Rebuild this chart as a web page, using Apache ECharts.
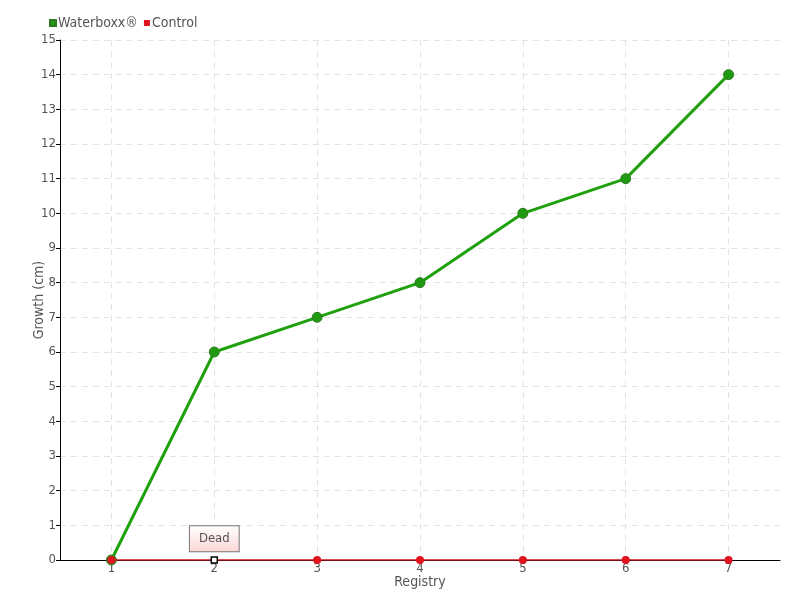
<!DOCTYPE html>
<html>
<head>
<meta charset="utf-8">
<script src="https://cdn.jsdelivr.net/npm/echarts@6/dist/echarts.min.js"></script>
<style>
  html, body { margin: 0; padding: 0; background: #fff; }
  #main { width: 800px; height: 600px; }
</style>
</head>
<body>
<div id="main"></div>
<script>
var registry = ['1', '2', '3', '4', '5', '6', '7'];
var waterboxx = [0, 6, 7, 8, 10, 11, 14];
var control = [0, 0, 0, 0, 0, 0, 0];
var deadIndex = 1;

var font = '"DejaVu Sans Condensed", "Liberation Sans Narrow", sans-serif';

var myChart = echarts.init(document.getElementById('main'));

// control series: mark the dead plant with a callout label
var controlData = control.map(function (v, i) {
  if (i !== deadIndex) return v;
  return {
    value: v,
    symbol: 'rect',
    symbolSize: 6,
    itemStyle: { color: '#fff', borderColor: '#000', borderWidth: 1.5 },
    label: {
      show: true,
      position: 'top',
      distance: 5,
      formatter: 'Dead',
      color: '#555',
      fontSize: 13,
      fontFamily: font,
      padding: [6, 9, 6, 9],
      borderColor: '#777',
      borderWidth: 1,
      backgroundColor: {
        type: 'linear', x: 0, y: 0, x2: 0, y2: 1,
        colorStops: [{ offset: 0, color: '#fff' }, { offset: 1, color: '#fcd6d6' }]
      }
    }
  };
});

var option = {
  animation: false,
  textStyle: { fontFamily: font },
  legend: {
    left: 44,
    top: 11,
    icon: 'rect',
    itemWidth: 6,
    itemHeight: 6,
    itemGap: 6,
    textStyle: { color: '#555', fontSize: 14, fontFamily: font, padding: [0, 0, 0, -3] },
    data: ['Waterboxx®', 'Control']
  },
  grid: { left: 60, right: 20, top: 40, bottom: 40 },
  xAxis: {
    type: 'category',
    data: registry,
    name: 'Registry',
    nameLocation: 'middle',
    nameGap: 15,
    nameMoveOverlap: false,
    nameTextStyle: { color: '#555', fontSize: 14, fontFamily: font },
    axisLine: { lineStyle: { color: '#000', width: 1 } },
    axisTick: { show: false },
    axisLabel: { color: '#555', fontSize: 13, margin: 2, fontFamily: font },
    splitLine: { show: true, alignWithLabel: true, lineStyle: { color: '#e3e3e3', type: [6, 5] } }
  },
  yAxis: {
    type: 'value',
    min: 0,
    max: 15,
    interval: 1,
    name: 'Growth (cm)',
    nameLocation: 'middle',
    nameGap: 14,
    nameMoveOverlap: false,
    nameTextStyle: { color: '#555', fontSize: 14, fontFamily: font },
    axisLine: { show: true, lineStyle: { color: '#000', width: 1 } },
    axisTick: { show: true, length: 4, lineStyle: { color: '#000' } },
    axisLabel: { color: '#555', fontSize: 13, margin: 4, fontFamily: font },
    splitLine: { show: true, lineStyle: { color: '#e3e3e3', type: [6, 5] } }
  },
  series: [
    {
      name: 'Waterboxx®',
      type: 'line',
      data: waterboxx,
      symbol: 'circle',
      symbolSize: 10,
      z: 2,
      lineStyle: { color: '#1fa10e', width: 3 },
      itemStyle: { color: '#1f9a10', borderColor: '#2e7a22', borderWidth: 1 }
    },
    {
      name: 'Control',
      type: 'line',
      data: controlData,
      symbol: 'circle',
      symbolSize: 8,
      z: 3,
      lineStyle: { color: '#d4141e', width: 1.5 },
      itemStyle: { color: '#e0141e' }
    }
  ]
};

option && myChart.setOption(option);
</script>
</body>
</html>
